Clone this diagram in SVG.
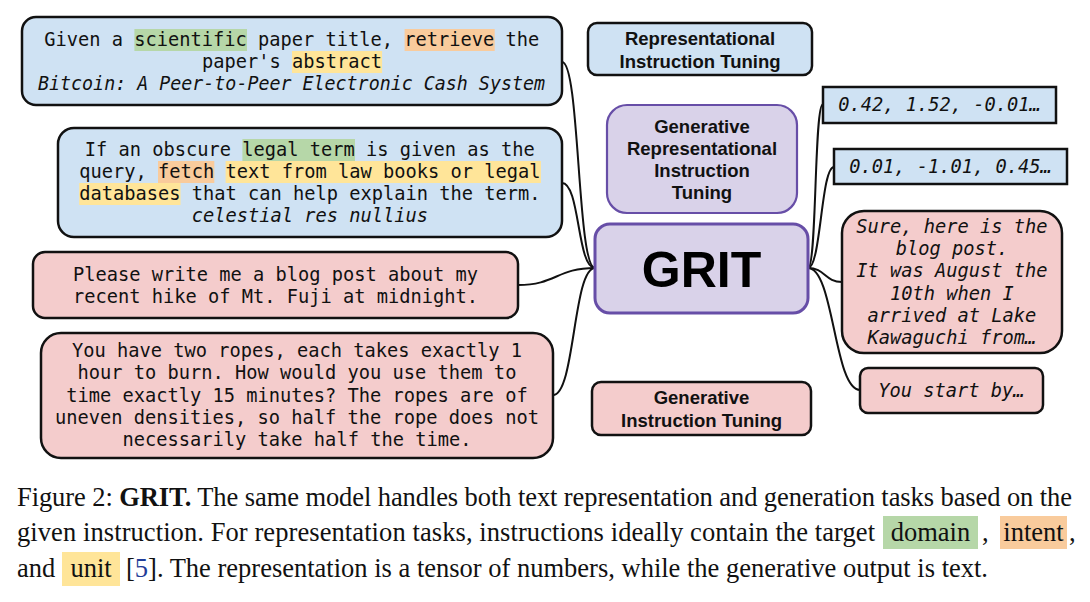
<svg xmlns="http://www.w3.org/2000/svg" width="1090" height="602" viewBox="0 0 1090 602">
<style>
.mono{font-family:"DejaVu Sans Mono","Liberation Mono",monospace;font-size:18.7px;fill:#111}
.it{font-style:italic}
.lbl{font-family:"Liberation Sans",Arial,sans-serif;font-weight:bold;font-size:18.5px;fill:#111;text-anchor:middle}
.cap{font-family:"Liberation Serif","Times New Roman",serif;font-size:26.5px;fill:#111}
.blue{fill:#cfe2f3;stroke:#111;stroke-width:2.5}
.pink{fill:#f4cccc;stroke:#111;stroke-width:2.5}
.purp{fill:#d9d2e9;stroke:#674ea7}
.hg{fill:#b6d7a8}.ho{fill:#f9cb9c}.hy{fill:#ffe599}
.conn path{fill:none;stroke:#111;stroke-width:2}
</style>
<rect width="1090" height="602" fill="#fff"/>
<g id="connectors" class="conn">
<path d="M562,62 C580,62 577,268 595,268"/>
<path d="M562,183 C580,183 577,268 595,268"/>
<path d="M518,285 C556,285 557,268 595,268"/>
<path d="M553,395 C575,395 573,268 595,268"/>
<path d="M808,268 C817,268 814,104 823,104"/>
<path d="M808,268 C821,268 821,167 834,167"/>
<path d="M808,268 C825,268 825,282 842,282"/>
<path d="M808,268 C834,268 834,390 860,390"/>
</g>
<g id="box-scientific">
<rect class="blue" x="22" y="17" width="540" height="88" rx="14"/>
<rect class="hg" x="134.4" y="29" width="112.6" height="22"/>
<rect class="ho" x="404.6" y="29" width="90.1" height="22"/>
<rect class="hy" x="292" y="51" width="90.1" height="22"/>
<text class="mono" x="44.3" y="46">Given a scientific paper title, retrieve the</text>
<text class="mono" x="201.9" y="68">paper's abstract</text>
<text class="mono it" x="38" y="90" textLength="507" lengthAdjust="spacingAndGlyphs">Bitcoin: A Peer-to-Peer Electronic Cash System</text>
</g>
<g id="box-legal">
<rect class="blue" x="58" y="128" width="504" height="109" rx="16"/>
<rect class="hg" x="242.4" y="139" width="112.6" height="22"/>
<rect class="ho" x="158" y="161" width="56.3" height="22"/>
<rect class="hy" x="225.6" y="161" width="315.3" height="22"/>
<rect class="hy" x="79.2" y="183" width="101.3" height="22"/>
<text class="mono" x="84.8" y="156">If an obscure legal term is given as the</text>
<text class="mono" x="79.2" y="178">query, fetch text from law books or legal</text>
<text class="mono" x="79.2" y="200">databases that can help explain the term.</text>
<text class="mono it" x="191.8" y="222">celestial res nullius</text>
</g>
<g id="box-blog">
<rect class="pink" x="33" y="252" width="485" height="66" rx="12"/>
<text class="mono" x="275.5" y="281" text-anchor="middle">Please write me a blog post about my</text>
<text class="mono" x="275.5" y="303" text-anchor="middle">recent hike of Mt. Fuji at midnight.</text>
</g>
<g id="box-ropes">
<rect class="pink" x="41" y="333" width="512" height="125" rx="20"/>
<text class="mono" x="297" y="357" text-anchor="middle">You have two ropes, each takes exactly 1</text>
<text class="mono" x="297" y="379.3" text-anchor="middle">hour to burn. How would you use them to</text>
<text class="mono" x="297" y="401.6" text-anchor="middle">time exactly 15 minutes? The ropes are of</text>
<text class="mono" x="297" y="423.9" text-anchor="middle">uneven densities, so half the rope does not</text>
<text class="mono" x="297" y="446.2" text-anchor="middle">necessarily take half the time.</text>
</g>
<g id="label-rep">
<rect class="blue" x="588" y="23" width="224" height="52" rx="9"/>
<text class="lbl" x="700" y="45">Representational</text>
<text class="lbl" x="700" y="67.5">Instruction Tuning</text>
</g>
<g id="label-genrep">
<rect class="purp" x="607" y="105" width="190" height="108" rx="20" stroke-width="2.2"/>
<text class="lbl" x="702" y="133">Generative</text>
<text class="lbl" x="702" y="155">Representational</text>
<text class="lbl" x="702" y="177">Instruction</text>
<text class="lbl" x="702" y="199">Tuning</text>
</g>
<g id="grit">
<rect class="purp" x="595" y="224" width="213" height="89" rx="15" stroke-width="3"/>
<text x="701.5" y="287" text-anchor="middle" style="font-family:'Liberation Sans',Arial,sans-serif;font-weight:bold;font-size:50px;fill:#000">GRIT</text>
</g>
<g id="label-gen">
<rect class="pink" x="592" y="382" width="219" height="53" rx="9"/>
<text class="lbl" x="701.5" y="404">Generative</text>
<text class="lbl" x="701.5" y="427">Instruction Tuning</text>
</g>
<g id="out-vec1">
<rect class="blue" x="823" y="87" width="233" height="36"/>
<text class="mono it" x="939.5" y="111" text-anchor="middle">0.42, 1.52, -0.01…</text>
</g>
<g id="out-vec2">
<rect class="blue" x="834" y="149" width="233" height="35"/>
<text class="mono it" x="950.5" y="173" text-anchor="middle">0.01, -1.01, 0.45…</text>
</g>
<g id="out-blog">
<rect class="pink" x="842" y="211" width="220" height="142" rx="22"/>
<text class="mono it" x="952" y="233" text-anchor="middle">Sure, here is the</text>
<text class="mono it" x="952" y="255.2" text-anchor="middle">blog post.</text>
<text class="mono it" x="952" y="277.4" text-anchor="middle">It was August the</text>
<text class="mono it" x="952" y="299.6" text-anchor="middle">10th when I</text>
<text class="mono it" x="952" y="321.8" text-anchor="middle">arrived at Lake</text>
<text class="mono it" x="952" y="344" text-anchor="middle">Kawaguchi from…</text>
</g>
<g id="out-start">
<rect class="pink" x="860" y="368" width="183" height="45" rx="8"/>
<text class="mono it" x="951.5" y="397" text-anchor="middle">You start by…</text>
</g>
<g id="caption">
<rect class="hg" x="883" y="516" width="95" height="33"/>
<rect class="ho" x="1000" y="516" width="67" height="33"/>
<rect class="hy" x="62" y="552" width="58" height="34"/>
<text class="cap" x="17" y="506" textLength="1055">Figure 2: <tspan font-weight="bold">GRIT.</tspan> The same model handles both text representation and generation tasks based on the</text>
<text class="cap" x="17" y="541" textLength="858">given instruction. For representation tasks, instructions ideally contain the target</text>
<text class="cap" x="930.5" y="541" text-anchor="middle">domain</text>
<text class="cap" x="982" y="541">,</text>
<text class="cap" x="1033.5" y="541" text-anchor="middle">intent</text>
<text class="cap" x="1069" y="541">,</text>
<text class="cap" x="17" y="577">and</text>
<text class="cap" x="91" y="577" text-anchor="middle">unit</text>
<text class="cap" x="126" y="577">[<tspan fill="#1f3c99">5</tspan>]. The representation is a tensor of numbers, while the generative output is text.</text>
</g>
</svg>
